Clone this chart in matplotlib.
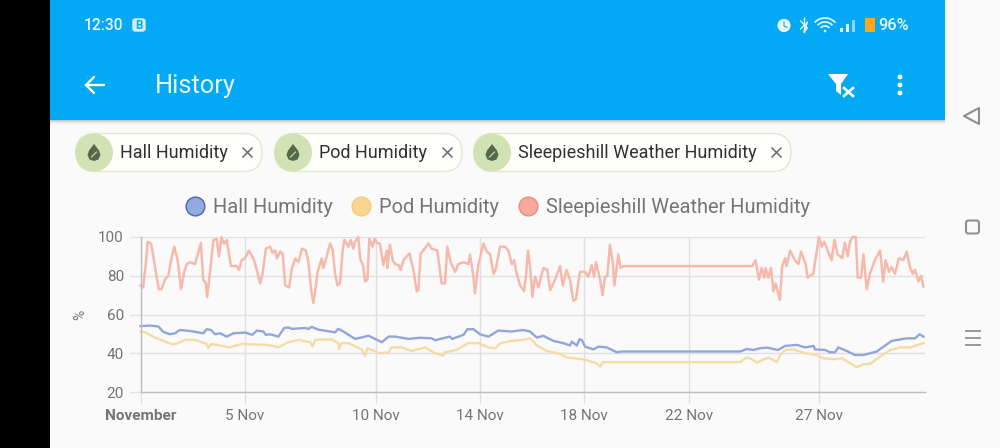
import matplotlib
matplotlib.use("Agg")
import matplotlib.pyplot as plt
from matplotlib.lines import Line2D
from matplotlib.patches import Rectangle, Circle, FancyBboxPatch, Polygon, Arc

plt.rcParams['font.family'] = ['Roboto', 'DejaVu Sans']

series_names = ["Hall Humidity", "Pod Humidity", "Sleepieshill Weather Humidity"]
tick_days = [1, 5, 10, 14, 18, 22, 27]
tick_labels = ["November", "5 Nov", "10 Nov", "14 Nov", "18 Nov", "22 Nov", "27 Nov"]
y_ticks = [20, 40, 60, 80, 100]

hall_days = [1,1.36,1.68,1.87,2.13,2.32,2.5,2.89,3.4,3.53,3.7,3.85,4.04,4.3,4.55,5,5.28,5.45,5.7,5.8,5.96,6.28,6.5,6.66,6.79,7.3,7.43,7.56,7.8,8.45,8.57,8.77,9.22,9.6,9.73,9.98,10.24,10.5,10.75,11.26,11.7,12.15,12.28,12.85,12.93,13.37,13.52,13.75,14,14.33,14.7,15.2,15.66,15.92,16.18,16.43,16.81,17.2,17.45,17.52,17.71,17.81,17.9,18.03,18.35,18.54,18.86,19.24,19.43,23.97,24.22,24.48,24.73,24.99,25.43,25.69,26.14,26.46,26.78,26.84,27.22,27.41,27.6,27.73,28.05,28.37,28.69,29.2,29.65,29.78,30.35,30.67,30.84,30.99]
hall_vals = [54,54.3,53.8,51,49.8,50.3,52,51.5,50.3,52.4,52,49.8,50.3,48.6,50.3,50.7,49.5,51.7,51.2,49.5,49.8,48.6,53,53.3,52.6,53,52.6,53.6,52.2,50.8,52.6,51.2,47.4,48.6,49.1,47.4,45.7,48.6,48.6,47.4,48,47.7,46.7,48.6,47.4,49.5,52.4,52.4,49.8,48.6,51.7,51.2,52,51.2,48.1,49,46.4,45.2,44,46,44,47.2,46.9,43.4,42,43.4,43,40.5,40.9,40.9,42.2,41.7,42.6,42.9,41.7,43.8,44.3,43,43.8,42,41.7,40.5,40.5,43,41.2,39.1,39.1,40.9,45.2,46.4,47.7,47.7,49.8,48.6]

pod_days = [1,1.17,1.55,1.93,2.25,2.44,2.7,3.08,3.53,3.6,3.7,4.04,4.4,4.87,5.25,5.9,6.28,6.66,7.05,7.5,7.59,7.69,8.32,8.57,8.6,8.7,8.96,9.47,9.6,9.69,10.17,10.5,10.62,11,11.38,11.9,12.28,12.6,12.66,13.1,13.55,13.94,14.33,14.59,14.78,15.2,15.66,15.92,16.18,16.56,17.07,17.32,17.96,18.47,18.6,18.7,23.97,24.22,24.41,24.6,25.05,25.37,25.5,25.69,26,26.46,26.9,27.16,27.6,27.86,28.44,28.69,28.95,29.33,29.72,30.1,30.48,30.99]
pod_vals = [51.2,50.8,48.1,46,44.6,45.2,46.9,46.9,44.8,42.6,44.8,44,43,44.8,44.6,44.3,43.1,45.7,46.9,45.7,43.4,46.9,47.2,45.2,42.2,45.2,45.2,42,38.8,42.6,40,40.5,43,43,41.2,43,40,38.8,40.5,41.7,45.2,45.2,43,42.6,45.2,46.4,46.9,47.7,44,41.2,39.7,37.8,36.9,34.8,33.1,35.4,35.4,37.8,37,35.2,37.8,35.4,39.1,41.7,42,40,39.1,37.4,36.9,37.4,32.8,34.3,34.5,38.3,41.7,43,43,45.2]

weather_days = [1,1.1,1.2,1.27,1.4,1.5,1.58,1.7,1.8,1.93,2.06,2.17,2.29,2.42,2.55,2.67,2.77,2.9,3.08,3.2,3.31,3.4,3.5,3.55,3.66,3.79,3.92,4,4.1,4.2,4.3,4.39,4.46,4.68,4.77,4.87,5,5.15,5.32,5.45,5.58,5.67,5.8,5.96,6.05,6.16,6.22,6.35,6.44,6.54,6.69,6.8,6.93,7.05,7.18,7.33,7.43,7.53,7.62,7.68,7.78,7.94,8,8.13,8.26,8.36,8.45,8.54,8.64,8.74,8.81,8.96,9.05,9.15,9.21,9.34,9.41,9.53,9.6,9.69,9.76,9.89,9.96,10.05,10.17,10.3,10.43,10.45,10.55,10.66,10.75,10.88,10.96,11.07,11.3,11.45,11.58,11.64,11.73,11.83,12.03,12.15,12.37,12.53,12.66,12.75,12.88,13.05,13.17,13.37,13.56,13.62,13.75,13.81,13.94,14,14.13,14.26,14.39,14.52,14.6,14.77,14.96,15.09,15.22,15.31,15.41,15.54,15.69,15.77,15.84,15.92,16.01,16.11,16.24,16.43,16.58,16.69,16.88,17.07,17.17,17.32,17.45,17.58,17.68,17.83,18.03,18.15,18.28,18.37,18.45,18.6,18.7,18.79,18.88,18.98,19.09,19.15,19.3,19.39,19.5,24.43,24.56,24.64,24.69,24.79,24.89,24.94,25.05,25.15,25.24,25.33,25.49,25.58,25.69,25.75,25.88,26.07,26.2,26.3,26.48,26.55,26.64,26.77,26.87,26.99,27.09,27.19,27.32,27.47,27.58,27.7,27.88,27.98,28.09,28.18,28.27,28.4,28.47,28.6,28.69,28.82,28.94,29.13,29.33,29.45,29.54,29.67,29.77,29.9,30.05,30.22,30.35,30.47,30.58,30.67,30.8,30.9,30.99]
weather_vals = [75,74,86,97.5,96.5,89,82,73,73,78,80,88,95,88,73,82,86,87,86,91.5,97,78,76,69,82,98.5,99,90,100,96.5,98.5,91,85,85,83,88,89,93,89,83,76,81,94,95,92,93,89,92.5,91.5,75,74,84,89,87,94,93,87,73,66,71,82,89,84,90,96.7,93,81,75,76,93,98.5,95,98.5,94,97.5,100,89,85,77,78,99,95,99,97,96.5,85.5,93,84,96,88,86,85.5,83,88,91.5,83,72,72.5,91.5,93,96.7,94,93,76,76,95,87,82,86,87,86,91,79.5,71,86,89,96.7,92.5,91,81,83,95,95,93,86,88,81,75,72,81,93,85,69,79.5,74,84,83,72.5,78,85,75,83,78,67,68,82,82,79.5,85.5,79.5,87,78,70,79.5,80,96,87,75,91,84,85,85,88,82,78,84,79,84,79,84,72,76,67.5,85,89,85,93,88,86,92.5,86,79,80,81,90,100,95,97.5,93,88,98.5,91,89,97,90,97.5,100,100,79,79,91,73,81,88,93,77,88,82,84.5,81,89,88,92.5,84.5,81,83,77,80,74.5]

W, H = 1000, 448
fig = plt.figure(figsize=(W / 100, H / 100), dpi=100, facecolor="#fafafa")

# ---- screen furniture, in screen pixels
ui = fig.add_axes([0, 0, 1, 1], zorder=0)
ui.set_xlim(0, W)
ui.set_ylim(H, 0)
ui.axis("off")
BLUE = "#03a9f4"
ui.add_patch(Rectangle((0, 0), 50, H, fc="black", ec="none"))
for i, c in enumerate(["#c9c5c5", "#dcd9d9", "#e9e7e7", "#f1f0f0", "#f6f6f6"]):
    ui.add_patch(Rectangle((50, 120 + i), 895, 1, fc=c, ec="none"))
ui.add_patch(Rectangle((50, 0), 895, 120, fc=BLUE, ec="none"))

ui.text(84, 25.5, "12:30", color="#e8f6fe", fontsize=11.2, fontweight="medium", va="center")
ui.add_patch(FancyBboxPatch((134.5, 20.5), 9, 9, boxstyle="round,pad=2.2,rounding_size=3", fc="#d8f0fd", ec="none"))
ui.text(139, 25.2, "B", color=BLUE, fontsize=8.5, fontweight="bold", ha="center", va="center")
ui.text(155, 86, "History", color="#e6f5fe", fontsize=18.4, va="center")
ui.plot([86, 104], [85, 85], color="white", lw=1.7, solid_capstyle="round")
ui.plot([94, 86, 94], [77, 85, 93], color="white", lw=1.7, solid_capstyle="round", solid_joinstyle="round")

# status icons
ui.add_patch(Circle((784, 25.5), 6.6, fc="#e8f6fe", ec="none"))
ui.plot([784, 784, 787], [22, 26, 27.5], color=BLUE, lw=0.8)
ui.plot([804, 804], [18, 32], color="#e8f6fe", lw=1)
ui.plot([800.5, 807.5, 804, 807.5, 800.5], [21, 28, 32, 22, 29], color="#e8f6fe", lw=0.9)
for r, lw in [(14, 1.2), (10, 1.2), (6, 1.2)]:
    ui.add_patch(Arc((825, 32), 2 * r, 2 * r, theta1=222, theta2=318, ec="#e8f6fe", lw=lw))
ui.add_patch(Circle((825, 31), 1.3, fc="#e8f6fe", ec="none"))
for x0, top in [(840, 28), (846, 24.5), (852, 20)]:
    ui.add_patch(Rectangle((x0, top), 3, 32 - top, fc="#e8f6fe" if x0 < 852 else "#8ed3f8", ec="none"))
ui.add_patch(FancyBboxPatch((865, 18), 10, 14, boxstyle="round,pad=0,rounding_size=1", fc="#fca91c", ec="none"))
ui.text(878.5, 25.5, "96%", color="#e8f6fe", fontsize=11.8, fontweight="medium", va="center")

# toolbar icons
ui.add_patch(Polygon([(828, 74), (848, 74), (841, 84), (841, 95), (836, 91), (836, 84)], fc="white", ec="none"))
ui.plot([844, 853], [88, 96], color="white", lw=1.9)
ui.plot([853, 844], [88, 96], color="white", lw=1.9)
for y0 in (77, 85, 93):
    ui.add_patch(Circle((900, y0), 2.4, fc="white", ec="none"))

# navigation bar
ui.add_patch(Polygon([(964, 116), (979, 108), (979, 124)], fc="none", ec="#8f8f8f", lw=1.5, joinstyle="round"))
ui.add_patch(FancyBboxPatch((966, 220.5), 13, 13, boxstyle="round,pad=0,rounding_size=2.5", fc="none", ec="#8f8f8f", lw=1.5))
for y0 in (331, 338, 345):
    ui.plot([966, 980], [y0, y0], color="#9a9a9a", lw=1.4)

# filter chips
chip_left = [75, 274, 473]
chip_right = [263, 463, 792]
for name, x0, x1 in zip(series_names, chip_left, chip_right):
    ui.add_patch(FancyBboxPatch((x0 + 1, 133.5), x1 - x0 - 2, 38, boxstyle="round,pad=0,rounding_size=19",
                                fc="#fffffb", ec="#e6e7cf", lw=1))
    ui.add_patch(Circle((x0 + 19, 152.5), 19, fc="#d1e3b4", ec="none"))
    cx = x0 + 19
    ui.add_patch(Polygon([(cx, 144), (cx + 5, 150.5), (cx + 6.5, 155), (cx + 4.5, 159.5), (cx, 161),
                          (cx - 4.5, 159.5), (cx - 6.5, 155), (cx - 5, 150.5)], fc="#55694a", ec="none"))
    ui.plot([cx - 2.5, cx + 2.5], [157, 152], color="#d1e3b4", lw=0.8)
    ui.text(x0 + 45, 153, name, color="#303030", fontsize=13, va="center")
    ui.plot([x1 - 20, x1 - 11], [148, 157], color="#6b6b6b", lw=1.1)
    ui.plot([x1 - 11, x1 - 20], [148, 157], color="#6b6b6b", lw=1.1)

# ---- the chart, on its own data scales
ax = fig.add_axes([140.6 / W, 1 - 392 / H, (925 - 140.6) / W, 155 / H], zorder=1)
ax.patch.set_alpha(0)
ax.set_xlim(1, 31.05)
ax.set_ylim(20, 100)
for s in ["top", "right"]:
    ax.spines[s].set_visible(False)
for s in ["left", "bottom"]:
    ax.spines[s].set_color("#bdbdbd")
    ax.spines[s].set_linewidth(1)
ax.set_xticks(tick_days)
ax.set_xticklabels(tick_labels)
ax.set_yticks(y_ticks)
ax.tick_params(axis="x", length=8, width=1, color="#dddddd", labelsize=11, labelcolor="#757575", pad=4)
ax.tick_params(axis="y", length=8, width=1, color="#e2e2e2", labelsize=11, labelcolor="#757575", pad=4)
ax.get_xticklabels()[0].set_fontweight("bold")
ax.grid(True, color="#e0e0e0", lw=1)
ax.set_axisbelow(True)
ax.set_ylabel("%", fontsize=10, color="#757575", labelpad=8)

line_colors = ["#92a6da", "#f5dca6", "#f7b9ac"]
ax.plot(hall_days, hall_vals, color=line_colors[0], lw=1.7, clip_on=False)
ax.plot(pod_days, pod_vals, color=line_colors[1], lw=1.7, clip_on=False)
ax.plot(weather_days, weather_vals, color=line_colors[2], lw=1.8, clip_on=False)

face = ["#93a9e2", "#f9d68f", "#f8a99c"]
edge = ["#4e66ad", "#f3cb7c", "#e58f81"]
handles = [Line2D([], [], ls="", marker="o", ms=13.5, mfc=f, mec=e, mew=1) for f, e in zip(face, edge)]
leg = fig.legend(handles, series_names, loc="center", bbox_to_anchor=(495 / W, 1 - 207.5 / H), ncol=3,
                 frameon=False, fontsize=14.4, labelcolor="#757575", handletextpad=0.15,
                 columnspacing=0.7, handlelength=1.5, borderpad=0)

fig.savefig("out.png", dpi=100, facecolor=fig.get_facecolor())
